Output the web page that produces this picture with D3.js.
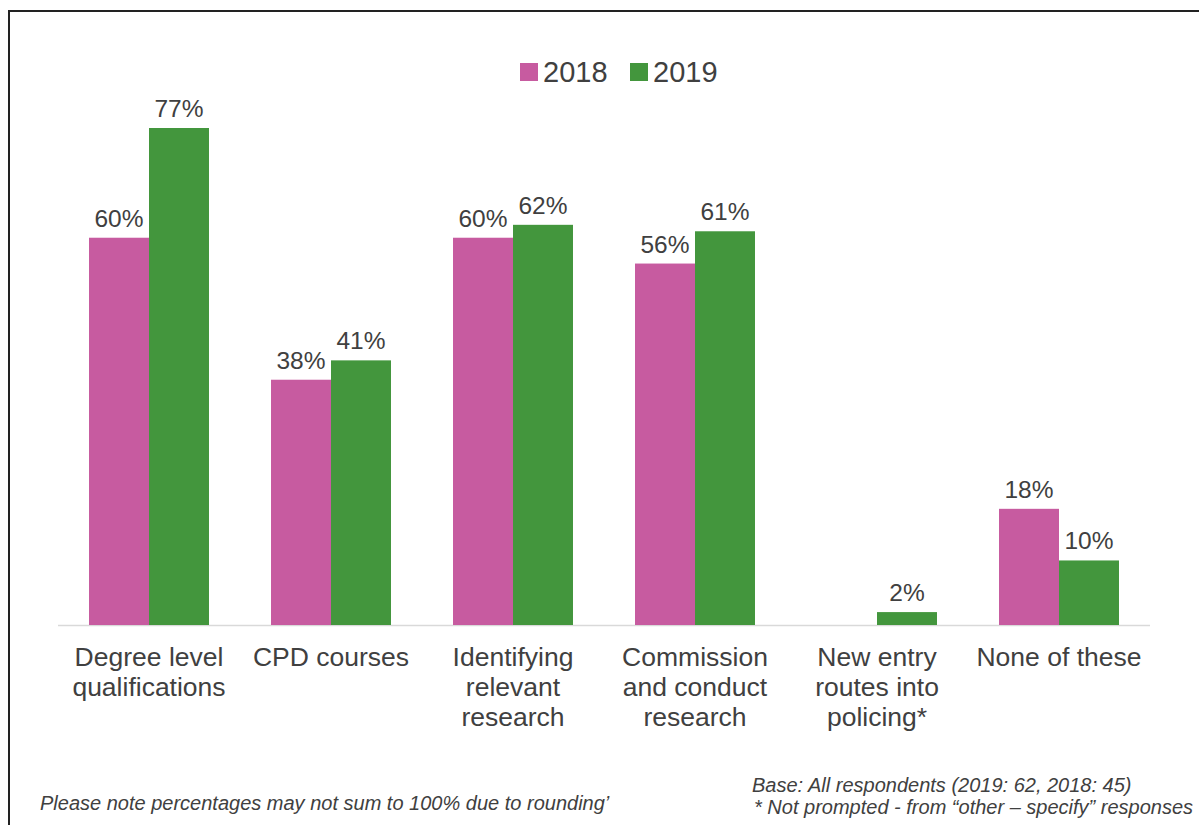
<!DOCTYPE html>
<html>
<head>
<meta charset="utf-8">
<script src="https://cdn.jsdelivr.net/npm/d3@7"></script>
<style>
  html, body { margin: 0; padding: 0; background: #fff; }
  svg { display: block; font-family: "Liberation Sans", Arial, sans-serif; }
</style>
</head>
<body>
<svg id="chart" width="1199" height="825"></svg>
<script>
// Categories (each entry split into its display lines)
const categories = [
  "Degree level qualifications",
  "CPD courses",
  "Identifying relevant research",
  "Commission and conduct research",
  "New entry routes into policing*",
  "None of these"
];
const categoryLines = [
  ["Degree level", "qualifications"],
  ["CPD courses"],
  ["Identifying", "relevant", "research"],
  ["Commission", "and conduct", "research"],
  ["New entry", "routes into", "policing*"],
  ["None of these"]
];
const seriesNames = ["2018", "2019"];
const values2018 = [60, 38, 60, 56, null, 18];
const values2019 = [77, 41, 62, 61, 2, 10];
const seriesColors = ["#C75BA0", "#43963D"];

const svg = d3.select("#chart");
const textColor = "#404040";

// Outer frame
svg.append("path")
  .attr("d", "M9,830 L9,11 L1205,11")
  .attr("fill", "none")
  .attr("stroke", "#222")
  .attr("stroke-width", 2);

const baseline = 625;
const x = d3.scaleBand().domain(categories).range([58, 1150]).paddingInner(0).paddingOuter(0);
const x1 = d3.scaleBand().domain(seriesNames).range([0, x.bandwidth()]).paddingInner(0).paddingOuter(0.517);
const y = d3.scaleLinear().domain([0, 77]).range([baseline, 128]);

const rows = categories.map((c, i) => ({
  cat: c,
  vals: [
    { s: "2018", v: values2018[i], color: seriesColors[0] },
    { s: "2019", v: values2019[i], color: seriesColors[1] }
  ]
}));

// Axis baseline
svg.append("line")
  .attr("x1", 58).attr("x2", 1150)
  .attr("y1", baseline + 0.5).attr("y2", baseline + 0.5)
  .attr("stroke", "#d9d9d9").attr("stroke-width", 1.5);

const groups = svg.selectAll("g.grp").data(rows).enter().append("g")
  .attr("class", "grp")
  .attr("transform", d => `translate(${x(d.cat)},0)`);

groups.selectAll("rect").data(d => d.vals.filter(v => v.v != null)).enter().append("rect")
  .attr("x", d => x1(d.s))
  .attr("width", x1.bandwidth())
  .attr("y", d => y(d.v))
  .attr("height", d => baseline - y(d.v))
  .attr("fill", d => d.color);

groups.selectAll("text.val").data(d => d.vals.filter(v => v.v != null)).enter().append("text")
  .attr("class", "val")
  .attr("x", d => x1(d.s) + x1.bandwidth() / 2)
  .attr("y", d => y(d.v) - 11)
  .attr("text-anchor", "middle")
  .attr("font-size", 24.5)
  .attr("fill", textColor)
  .text(d => d.v + "%");

// Category labels
groups.each(function(d, i) {
  const t = d3.select(this).append("text")
    .attr("text-anchor", "middle")
    .attr("font-size", 26.5)
    .attr("fill", textColor);
  categoryLines[i].forEach((line, j) => {
    t.append("tspan")
      .attr("x", x.bandwidth() / 2)
      .attr("y", 666 + j * 30)
      .text(line);
  });
});

// Legend
const legend = svg.append("g");
const legendX = [520, 630];
seriesNames.forEach((s, i) => {
  legend.append("rect")
    .attr("x", legendX[i]).attr("y", 63)
    .attr("width", 18).attr("height", 18)
    .attr("fill", seriesColors[i]);
  legend.append("text")
    .attr("x", legendX[i] + 23).attr("y", 82)
    .attr("font-size", 29)
    .attr("fill", textColor)
    .text(s);
});

// Footnotes
svg.append("text")
  .attr("x", 40).attr("y", 810)
  .attr("font-size", 20).attr("font-style", "italic")
  .attr("fill", textColor)
  .text("Please note percentages may not sum to 100% due to rounding’");
svg.append("text")
  .attr("x", 752).attr("y", 792)
  .attr("font-size", 20).attr("font-style", "italic")
  .attr("fill", textColor)
  .text("Base: All respondents (2019: 62, 2018: 45)");
svg.append("text")
  .attr("x", 754).attr("y", 814)
  .attr("font-size", 20).attr("font-style", "italic")
  .attr("fill", textColor)
  .text("* Not prompted - from “other – specify” responses");
</script>
</body>
</html>
